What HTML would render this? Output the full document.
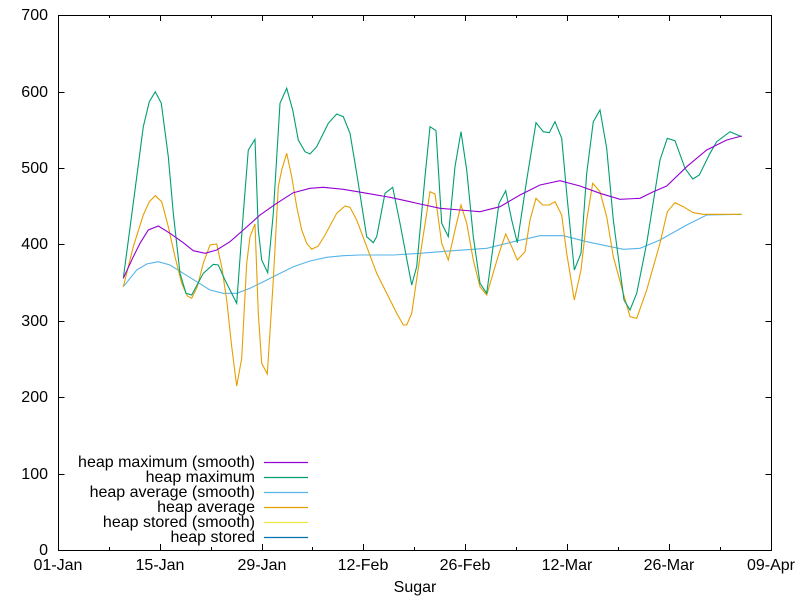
<!DOCTYPE html>
<html><head><meta charset="utf-8"><style>body{margin:0;background:#fff}svg{display:block}text{font-family:"Liberation Sans",Arial,sans-serif;font-size:16px;fill:#000}</style></head><body>
<svg width="800" height="600" viewBox="0 0 800 600" xmlns="http://www.w3.org/2000/svg">
<rect width="800" height="600" fill="#fff"/>
<g stroke="#000" stroke-width="1" fill="none">
<rect x="58.5" y="15.5" width="713" height="535"/>
<path d="M58.5 474.5h6M771.5 474.5h-6M58.5 397.5h6M771.5 397.5h-6M58.5 321.5h6M771.5 321.5h-6M58.5 244.5h6M771.5 244.5h-6M58.5 168.5h6M771.5 168.5h-6M58.5 92.5h6M771.5 92.5h-6"/>
<path d="M160.5 550v-6M160.5 15v6M262.5 550v-6M262.5 15v6M363.5 550v-6M363.5 15v6M465.5 550v-6M465.5 15v6M567.5 550v-6M567.5 15v6M669.5 550v-6M669.5 15v6"/>
<path d="M109.5 550v-3M109.5 15v3M211.5 550v-3M211.5 15v3M312.5 550v-3M312.5 15v3M414.5 550v-3M414.5 15v3M516.5 550v-3M516.5 15v3M618.5 550v-3M618.5 15v3M720.5 550v-3M720.5 15v3"/>
</g>
<g text-anchor="end">
<text x="48" y="555">0</text><text x="48" y="479">100</text><text x="48" y="402">200</text><text x="48" y="326">300</text><text x="48" y="249">400</text><text x="48" y="173">500</text><text x="48" y="97">600</text><text x="48" y="20">700</text>
</g>
<g text-anchor="middle">
<text x="58" y="570">01-Jan</text><text x="160" y="570">15-Jan</text><text x="262" y="570">29-Jan</text><text x="363" y="570">12-Feb</text><text x="465" y="570">26-Feb</text><text x="567" y="570">12-Mar</text><text x="669" y="570">26-Mar</text><text x="771" y="570">09-Apr</text>
<text x="415" y="592">Sugar</text>
</g>
<g fill="none" stroke-width="1.1">
<polyline stroke="#56b4e9" points="123.3,286.7 136.7,270 146.7,264 158.3,261.7 170,265 183.3,273.3 196.7,281.7 210,290 223.3,293.3 236.7,293.3 250,288.3 263.3,281.7 276.7,275 293.3,266.7 310,261 326.7,257.3 343.3,255.7 360,255 393.3,255 420,253.3 453.3,250.7 486.7,248.3 513.3,241.7 540,235.7 563.3,235.7 586.7,241.7 623.3,249.3 640,248.3 660,240 686.7,225 706.7,215 741.7,214.3"/>
<polyline stroke="#e69f00" points="123.3,286.7 133.3,246.7 143.3,215 149.3,201.7 155.3,195.7 161.7,201.7 168.3,226.7 175,256.7 181.7,283.3 187.3,296 191.7,298.3 197.3,286.7 203.3,263.3 210,245 216.7,244 221.7,266.7 226.7,300 231.7,346.7 236.7,386 241.7,358.3 246.7,263.3 250,236.7 255,224 258.3,313.3 261.7,363.3 267.3,374 273.3,280 278.3,186.7 281.7,170 286.7,153.3 291.7,176.7 296.7,206.7 301.7,230 306.7,243.3 311.7,249.3 318.3,246 325,235 336.7,213.3 345,206 350,207.3 356.7,220 366.7,246.7 376.7,273.3 386.7,293.3 396.7,313.3 403.3,325 406.7,325 411.7,313.3 420,256.7 430,191.7 435,194 441.7,243.3 448.3,260 455,230 461,205 466.7,223.3 473.3,260 480,286.7 486.7,295 499,253.3 505.7,234 511.7,246.7 517.3,260 525,251.7 530,220 536,198.3 542.7,205 549.3,205 555,201.7 561.7,215 566.7,253.3 574.3,300 581,270 586.7,220 592.7,183.3 600,191.7 606.7,216.7 613.3,256.7 623.3,293.3 630,316.7 636.7,318.3 646.7,290 660,243.3 667.3,211.7 675,202.7 683.3,206.7 693.3,212.7 703.3,214.3 741.7,214.3"/>
<polyline stroke="#009e73" points="123.3,278.3 135,190 143.3,126.7 149.3,101.7 155.3,91.7 161.3,103.3 168.3,156.7 173.3,213.3 180,273.3 186,293.3 191.7,295 203.3,273.3 213.3,264.3 218.3,265 225,280 236.7,303.3 243.3,213.3 248.3,150 255,139.3 258.3,230 261.7,260 267.7,272.7 273.3,213.3 280,103.3 286.7,88.3 292.7,110 298.3,140 305,151.7 310,154 316.7,146.7 328.3,123.3 336.7,114 343.3,116.7 350,133.3 356.7,173.3 366.7,236.7 373.3,242.7 376.7,236.7 385,193.3 392.7,187.3 400,223.3 411.7,285 416.7,266.7 425,176.7 430,126.7 436,130.7 441.7,223.3 448.3,236.7 455,166.7 461,131.7 466.7,170 473.3,236.7 480,283.3 486.7,293.3 499,203.3 505.7,190.7 511.7,220 517.3,242.7 526.7,180 536,122.7 543.3,131.7 549.3,132.7 555,121.7 561.7,138.3 566.7,193.3 574.3,270 581,253.3 586.7,173.3 593.3,121.7 600,110 606.7,148.3 613.3,220 624,300 630,310 636.7,293.3 646.7,243.3 660,160 667.3,138.3 675,140.7 685,168.3 692.7,179 699.3,175 710,153.3 716.7,141.7 730,131.7 741.7,136.7"/>
<polyline stroke="#9400d3" points="123.3,278.3 133.3,256.7 140,243.3 148.3,230 158.3,226 170,233.3 183.3,242.7 193.3,250.7 205,253.3 216.7,250 230,241.7 243.3,230 260,215 276.7,203.3 293.3,192.7 310,188.3 323.3,187.3 343.3,189.3 363.3,192.7 390,197.3 410,201.7 420,204 440,208.3 460,210 480,211.7 500,206.7 520,195 540,185 560,180.7 580,186 600,193.3 620,199.3 640,198.3 653.3,191.7 666.7,186 686.7,166.7 706.7,150 726.7,140 741.7,136"/>
</g>
<g text-anchor="end">
<text x="255" y="467">heap maximum (smooth)</text>
<text x="255" y="482">heap maximum</text>
<text x="255" y="497">heap average (smooth)</text>
<text x="255" y="512">heap average</text>
<text x="255" y="527">heap stored (smooth)</text>
<text x="255" y="542">heap stored</text>
</g>
<g stroke-width="1.2">
<path d="M264 462.5h44" stroke="#9400d3"/>
<path d="M264 477.5h44" stroke="#009e73"/>
<path d="M264 492.5h44" stroke="#56b4e9"/>
<path d="M264 507.5h44" stroke="#e69f00"/>
<path d="M264 522.5h44" stroke="#f0e442"/>
<path d="M264 537.5h44" stroke="#0072b2"/>
</g>
</svg>
</body></html>
